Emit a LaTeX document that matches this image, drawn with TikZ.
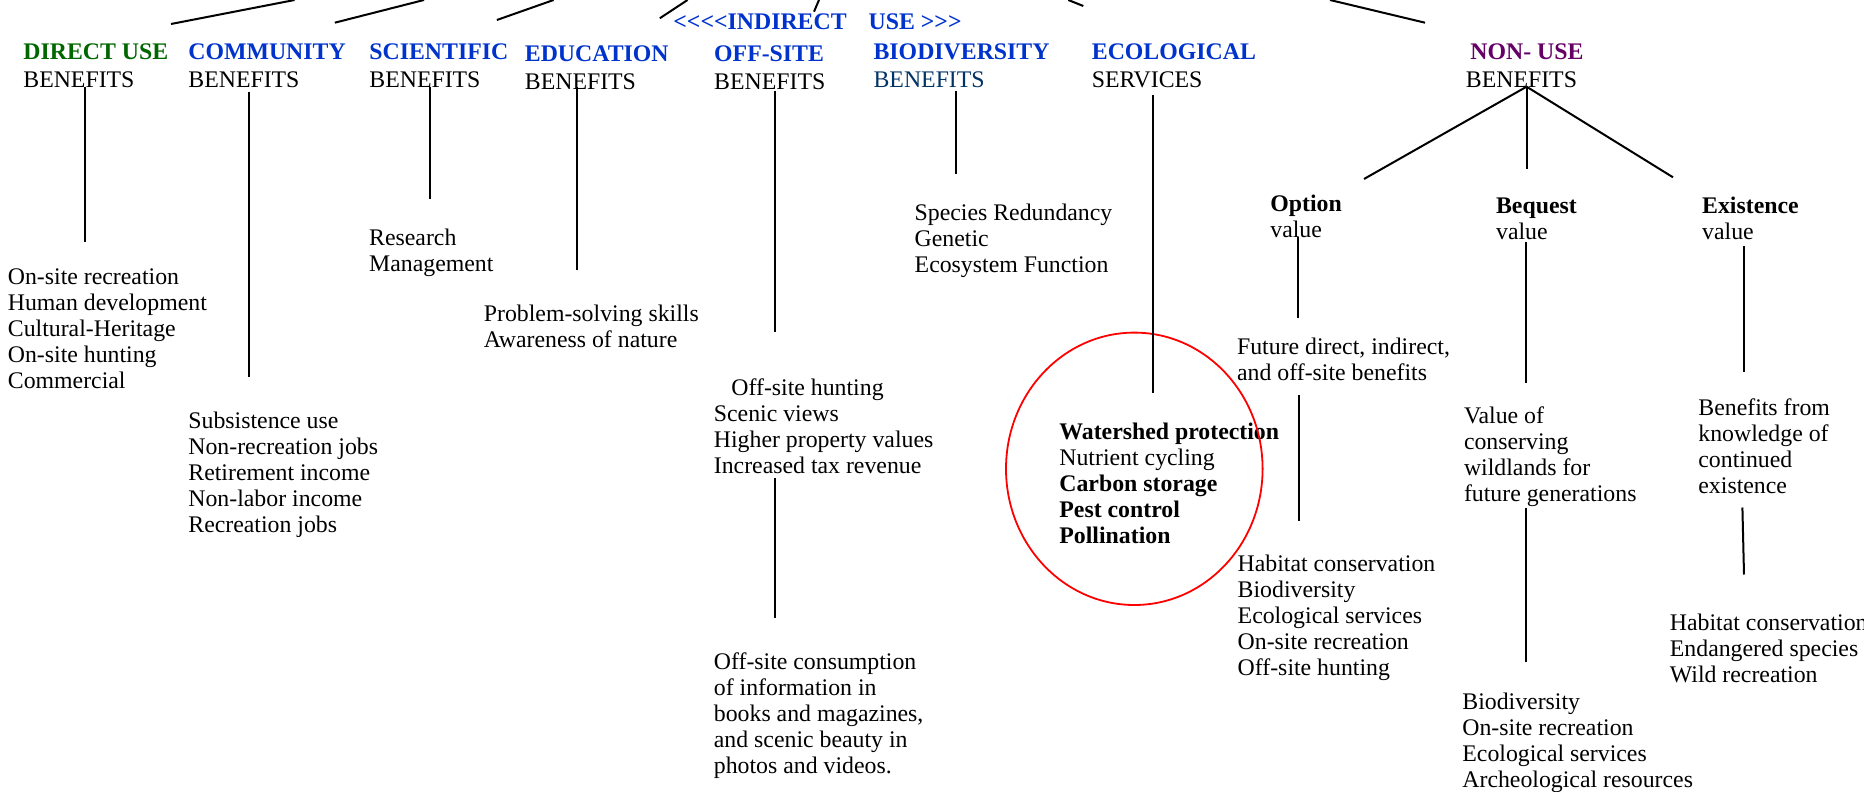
\documentclass[tikz,border=0pt]{standalone}
\usepackage{fontspec}
\setmainfont{Liberation Serif}
\usepackage{tikz}
\definecolor{headgreen}{HTML}{006600}
\definecolor{headblue}{HTML}{0033CC}
\definecolor{benefitnavy}{HTML}{003366}
\definecolor{nonusepurple}{HTML}{660066}
\definecolor{circlered}{HTML}{FF0000}
\newcommand{\figuretext}{\fontsize{11.9}{13}\selectfont}
\newcommand{\headword}[2]{\textcolor{#1}{\textbf{#2}}}

\begin{document}
\begin{tikzpicture}[x=0.5pt,y=-0.5pt,font=\figuretext,
  txt/.style={anchor=north west,inner sep=0pt,align=left},
  link/.style={line width=1pt},
  ring/.style={draw=circlered,line width=0.9pt}]
\useasboundingbox (0,0) rectangle (1864,792);
\clip (0,0) rectangle (1864,792);

\node[txt] (indirect) at (673,13.5) {\headword{headblue}{<\kern0pt<\kern0pt<\kern0pt<INDIRECT\hspace{11pt}USE >\kern0pt>\kern0pt>}};
\node[txt] (h1) at (23,43.5) {\headword{headgreen}{DIRECT USE}\\[1pt]BENEFITS};
\node[txt] (h2) at (188,43.5) {\headword{headblue}{COMMUNITY}\\[1pt]BENEFITS};
\node[txt] (h3) at (369,43.5) {\headword{headblue}{SCIENTIFIC}\\[1pt]BENEFITS};
\node[txt] (h4) at (524.5,44.9) {\headword{headblue}{EDUCATION}\\[1pt]BENEFITS};
\node[txt] (h5) at (713.8,44.9) {\headword{headblue}{OFF-SITE}\\[1pt]BENEFITS};
\node[txt] (h6) at (873.2,43.5) {\headword{headblue}{BIODIVERSITY}\\[1pt]\textcolor{benefitnavy}{BENEFITS}};
\node[txt] (h7) at (1091.5,43.5) {\headword{headblue}{ECOLOGICAL}\\[1pt]SERVICES};
\node[txt] (h8) at (1465.5,43.5) {\hspace*{2.25pt}\headword{nonusepurple}{NON- USE}\\[1pt]BENEFITS};

\node[txt] (opt) at (1270,194.5) {\textbf{Option}\\value};
\node[txt] (beq) at (1495.7,197.1) {\textbf{Bequest}\\value};
\node[txt] (exi) at (1701.8,196.1) {\textbf{Existence}\\value};

\node[txt] (l1) at (7.5,268.8) {On-site recreation\\Human development\\Cultural-Heritage\\On-site hunting\\Commercial};
\node[txt] (l2) at (188,411.5) {Subsistence use\\Non-recreation jobs\\Retirement income\\Non-labor income\\Recreation jobs};
\node[txt] (l3) at (368.8,228.8) {Research\\Management};
\node[txt] (l4) at (483.5,304.5) {Problem-solving skills\\Awareness of nature};
\node[txt] (l5) at (713.5,378.1) {\hspace*{8.75pt}Off-site hunting\\Scenic views\\Higher property values\\Increased tax revenue};
\node[txt] (l6) at (713.5,652.1) {Off-site consumption\\of information in\\books and magazines,\\and scenic beauty in\\photos and videos.};
\node[txt] (l7) at (914.3,203.8) {Species Redundancy\\Genetic\\Ecosystem Function};
\node[txt] (l8) at (1059,422.1) {\textbf{Watershed protection}\\Nutrient cycling\\\textbf{Carbon storage}\\\textbf{Pest control}\\\textbf{Pollination}};
\node[txt] (l9) at (1236.7,337.8) {Future direct, indirect,\\and off-site benefits};
\node[txt] (l10) at (1237.3,554.8) {Habitat conservation\\Biodiversity\\Ecological services\\On-site recreation\\Off-site hunting};
\node[txt] (l11) at (1463.6,406.5) {Value of\\conserving\\wildlands for\\future generations};
\node[txt] (l12) at (1462,692.1) {Biodiversity\\On-site recreation\\Ecological services\\Archeological resources};
\node[txt] (l13) at (1698,398.8) {Benefits from\\knowledge of\\continued\\existence};
\node[txt] (l14) at (1669.5,613.1) {Habitat conservation\\Endangered species\\Wild recreation};

\draw[ring] (1134.3,468.8) ellipse [x radius=64.15pt, y radius=68.1pt];

\coordinate (u1) at (294.6,0);
\coordinate (u2) at (424,0);
\coordinate (u3) at (553.6,0);
\coordinate (u4) at (687.5,0);
\coordinate (u5) at (819,0);
\coordinate (u6) at (1068.3,0);
\coordinate (u7) at (1330,0);
\coordinate (d1) at (171,24);
\coordinate (d2) at (334.8,22.7);
\coordinate (d3) at (496.9,20);
\coordinate (d4) at (659.8,18.3);
\coordinate (d5) at (814,11.7);
\coordinate (d6) at (1083.3,6);
\coordinate (d7) at (1425,22.7);
\draw[link] (u1) -- (d1);
\draw[link] (u2) -- (d2);
\draw[link] (u3) -- (d3);
\draw[link] (u4) -- (d4);
\draw[link] (u5) -- (d5);
\draw[link] (u6) -- (d6);
\draw[link] (u7) -- (d7);

\coordinate (a1) at (84.6,87.3);
\coordinate (b1) at (84.6,242);
\coordinate (a2) at (248.7,91.7);
\coordinate (b2) at (248.7,377);
\coordinate (a3) at (430,87.3);
\coordinate (b3) at (430,198.6);
\coordinate (a4) at (577.2,87.3);
\coordinate (b4) at (577.2,270);
\coordinate (a5) at (774.5,90.7);
\coordinate (b5) at (774.5,332.3);
\coordinate (a6) at (955.8,90.7);
\coordinate (b6) at (955.8,173.6);
\coordinate (a7) at (1152.7,95);
\coordinate (b7) at (1152.7,393.3);
\coordinate (a8) at (775,478);
\coordinate (b8) at (775,618);
\draw[link] (a1) -- (b1);
\draw[link] (a2) -- (b2);
\draw[link] (a3) -- (b3);
\draw[link] (a4) -- (b4);
\draw[link] (a5) -- (b5);
\draw[link] (a6) -- (b6);
\draw[link] (a7) -- (b7);
\draw[link] (a8) -- (b8);

\coordinate (n0) at (1526.6,86.7);
\coordinate (n1) at (1364,179);
\coordinate (n2) at (1526.6,169.3);
\coordinate (n3) at (1673,177.3);
\draw[link] (n0) -- (n1);
\draw[link] (n0) -- (n2);
\draw[link] (n0) -- (n3);

\coordinate (o1) at (1298.3,236.7);
\coordinate (o2) at (1298.3,317.7);
\coordinate (o3) at (1298.5,395);
\coordinate (o4) at (1298.5,520.5);
\coordinate (q1) at (1526,242.3);
\coordinate (q2) at (1526,382.7);
\coordinate (q3) at (1526,507.5);
\coordinate (q4) at (1526,662);
\coordinate (e1) at (1743.5,246);
\coordinate (e2) at (1743.5,372);
\coordinate (e3) at (1742.4,507.5);
\coordinate (e4) at (1744,574.5);
\draw[link] (o1) -- (o2);
\draw[link] (o3) -- (o4);
\draw[link] (q1) -- (q2);
\draw[link] (q3) -- (q4);
\draw[link] (e1) -- (e2);
\draw[link] (e3) -- (e4);
\end{tikzpicture}
\end{document}
